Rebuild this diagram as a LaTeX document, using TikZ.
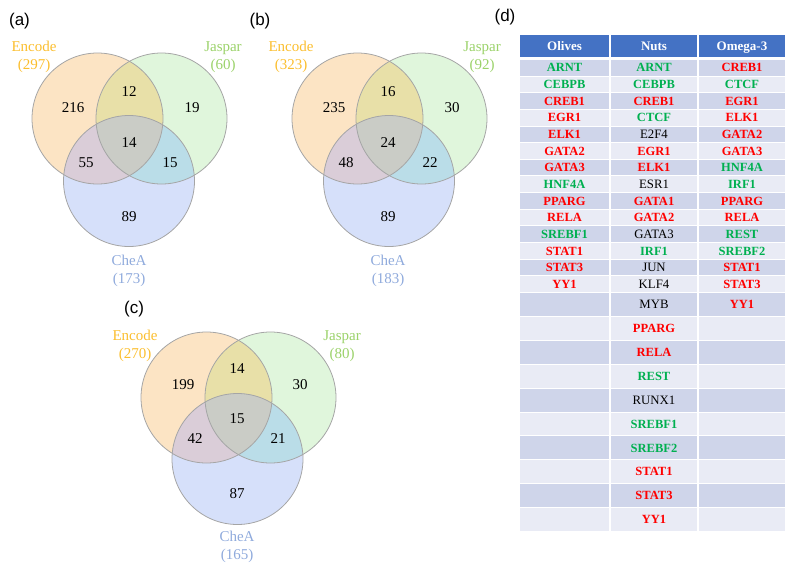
\documentclass[tikz,border=0pt]{standalone}
\usepackage{fontspec}
\setmainfont{Liberation Serif}
\newfontfamily\labfont{Liberation Sans}
\definecolor{eonly}{HTML}{FCE4C4}
\definecolor{jonly}{HTML}{E0F6DC}
\definecolor{conly}{HTML}{D6E0FA}
\definecolor{ejfill}{HTML}{E8E0A8}
\definecolor{ecfill}{HTML}{DACDD8}
\definecolor{jcfill}{HTML}{BADDE8}
\definecolor{ejcfill}{HTML}{CACCC6}
\definecolor{circline}{HTML}{A5A5A5}
\definecolor{enccol}{HTML}{FBBE2E}
\definecolor{jascol}{HTML}{9BD26A}
\definecolor{checol}{HTML}{8FAADC}
\definecolor{hdrblue}{HTML}{4472C4}
\definecolor{rowdark}{HTML}{CFD5EA}
\definecolor{rowlight}{HTML}{E9EBF5}
\definecolor{tgreen}{HTML}{00B050}
\definecolor{tred}{HTML}{FF0000}
\newcommand\drawvenn[1]{%
  \fill[eonly] (#1E) circle[radius=65.5pt];
  \fill[jonly] (#1J) circle[radius=65.5pt];
  \fill[conly] (#1C) circle[radius=65.5pt];
  \begin{scope}\clip (#1E) circle[radius=65.5pt]; \fill[ejfill] (#1J) circle[radius=65.5pt];\end{scope}
  \begin{scope}\clip (#1E) circle[radius=65.5pt]; \fill[ecfill] (#1C) circle[radius=65.5pt];\end{scope}
  \begin{scope}\clip (#1J) circle[radius=65.5pt]; \fill[jcfill] (#1C) circle[radius=65.5pt];\end{scope}
  \begin{scope}\clip (#1E) circle[radius=65.5pt]; \clip (#1J) circle[radius=65.5pt]; \fill[ejcfill] (#1C) circle[radius=65.5pt];\end{scope}
  \draw[circ] (#1E) circle[radius=65.5pt];
  \draw[circ] (#1J) circle[radius=65.5pt];
  \draw[circ] (#1C) circle[radius=65.5pt];
}
\tikzset{
  circ/.style={draw=circline, line width=0.8pt},
  num/.style={font=\fontsize{15}{18}\selectfont, text=black, inner sep=0pt, text height=10pt, text depth=0pt},
  lbl/.style={font=\fontsize{15}{18}\selectfont, inner sep=0pt, align=center},
  panel/.style={font=\labfont\fontsize{17}{20}\selectfont, inner sep=0pt},
  cellg/.style={font=\bfseries\fontsize{12.5}{14}\selectfont, text=tgreen, inner sep=0pt, text height=8.3pt, text depth=0pt},
  cellr/.style={font=\bfseries\fontsize{12.5}{14}\selectfont, text=tred, inner sep=0pt, text height=8.3pt, text depth=0pt},
  cellk/.style={font=\fontsize{12.8}{14}\selectfont, text=black, inner sep=0pt, text height=8.5pt, text depth=0pt},
  hdr/.style={font=\bfseries\fontsize{13}{15}\selectfont, text=white, inner sep=0pt, text height=8.7pt, text depth=0pt},
}
\begin{document}
\begin{tikzpicture}[x=1pt,y=-1pt]
\useasboundingbox (0,0) rectangle (793,570);
% panel labels
\node[panel] (pa) at (19.5,21.5) {(a)};
\node[panel] (pb) at (260,21.5) {(b)};
\node[panel] (pc) at (134,309) {(c)};
\node[panel] (pd) at (505,17) {(d)};
% ---- Venn (a)
\begin{scope}
  \coordinate (aE) at (97.5,118.5);
  \coordinate (aJ) at (161.5,118.5);
  \coordinate (aC) at (129,181);
  \drawvenn{a}
  \node[num] (a1) at (73,107) {216};
  \node[num] (a2) at (129,91) {12};
  \node[num] (a3) at (192,107) {19};
  \node[num] (a4) at (129,142) {14};
  \node[num] (a5) at (86,162) {55};
  \node[num] (a6) at (170,162) {15};
  \node[num] (a7) at (129,216) {89};
  \node[lbl, text=enccol] (aEl) at (34,57) {Encode\\(297)};
  \node[lbl, text=jascol] (aJl) at (223,57) {Jaspar\\(60)};
  \node[lbl, text=checol] (aCl) at (129,271) {CheA\\(173)};
\end{scope}
% ---- Venn (b)
\begin{scope}[shift={(260,0)}]
  \coordinate (bE) at (97.5,118.5);
  \coordinate (bJ) at (161.5,118.5);
  \coordinate (bC) at (129,181);
  \drawvenn{b}
  \node[num] (b1) at (74,107) {235};
  \node[num] (b2) at (128,91) {16};
  \node[num] (b3) at (192,107) {30};
  \node[num] (b4) at (128,142) {24};
  \node[num] (b5) at (86,162) {48};
  \node[num] (b6) at (170,162) {22};
  \node[num] (b7) at (128,216) {89};
  \node[lbl, text=enccol] (bEl) at (31,57) {Encode\\(323)};
  \node[lbl, text=jascol] (bJl) at (222,57) {Jaspar\\(92)};
  \node[lbl, text=checol] (bCl) at (128,271) {CheA\\(183)};
\end{scope}
% ---- Venn (c)
\begin{scope}[shift={(109,278)}]
  \coordinate (cE) at (97.5,119.5);
  \coordinate (cJ) at (161.5,119.5);
  \coordinate (cC) at (128.5,181);
  \drawvenn{c}
  \node[num] (c1) at (74,106) {199};
  \node[num] (c2) at (128,90) {14};
  \node[num] (c3) at (191,106) {30};
  \node[num] (c4) at (128,140) {15};
  \node[num] (c5) at (86,160) {42};
  \node[num] (c6) at (169,160) {21};
  \node[num] (c7) at (128,215) {87};
  \node[lbl, text=enccol] (cEl) at (26,68) {Encode\\(270)};
  \node[lbl, text=jascol] (cJl) at (233,68) {Jaspar\\(80)};
  \node[lbl, text=checol] (cCl) at (128,269) {CheA\\(165)};
\end{scope}
% ---- Table (d)
\fill[hdrblue] (520,35) rectangle (609,57);
\fill[hdrblue] (611,35) rectangle (697,57);
\fill[hdrblue] (699,35) rectangle (785,57);
\node[hdr] (h1) at (564.5,46) {Olives};
\node[hdr] (h2) at (654,46) {Nuts};
\node[hdr] (h3) at (742,46) {Omega-3};
\foreach \i in {1,...,24}{
  \pgfmathsetmacro\ta{\i<15 ? 60+(\i-1)*16.64 : 293+(\i-15)*23.9}
  \pgfmathsetmacro\tb{\i<15 ? 60+\i*16.64-1 : 293+(\i-14)*23.9-1}
  \pgfmathtruncatemacro\oddq{mod(\i,2)}
  \ifnum\oddq=1 \def\rc{rowdark}\else\def\rc{rowlight}\fi
  \fill[\rc] (520,\ta) rectangle (609,\tb);
  \fill[\rc] (611,\ta) rectangle (697,\tb);
  \fill[\rc] (699,\ta) rectangle (785,\tb);
}
\foreach \t/\s [count=\i] in {ARNT/cellg,CEBPB/cellg,CREB1/cellr,EGR1/cellr,ELK1/cellr,GATA2/cellr,GATA3/cellr,HNF4A/cellg,PPARG/cellr,RELA/cellr,SREBF1/cellg,STAT1/cellr,STAT3/cellr,YY1/cellr}{
  \pgfmathsetmacro\yc{60+(\i-0.5)*16.64-0.5}
  \node[\s] (ol\i) at (564.5,\yc) {\t};
}
\foreach \t/\s [count=\i] in {ARNT/cellg,CEBPB/cellg,CREB1/cellr,CTCF/cellg,E2F4/cellk,EGR1/cellr,ELK1/cellr,ESR1/cellk,GATA1/cellr,GATA2/cellr,GATA3/cellk,IRF1/cellg,JUN/cellk,KLF4/cellk,MYB/cellk,PPARG/cellr,RELA/cellr,REST/cellg,RUNX1/cellk,SREBF1/cellg,SREBF2/cellg,STAT1/cellr,STAT3/cellr,YY1/cellr}{
  \pgfmathsetmacro\yc{\i<15 ? 60+(\i-0.5)*16.64-0.5 : 293+(\i-14.5)*23.9-0.5}
  \node[\s] (nu\i) at (654,\yc) {\t};
}
\foreach \t/\s [count=\i] in {CREB1/cellr,CTCF/cellg,EGR1/cellr,ELK1/cellr,GATA2/cellr,GATA3/cellr,HNF4A/cellg,IRF1/cellg,PPARG/cellr,RELA/cellr,REST/cellg,SREBF2/cellg,STAT1/cellr,STAT3/cellr,YY1/cellr}{
  \pgfmathsetmacro\yc{\i<15 ? 60+(\i-0.5)*16.64-0.5 : 293+(\i-14.5)*23.9-0.5}
  \node[\s] (om\i) at (742,\yc) {\t};
}
\end{tikzpicture}
\end{document}
